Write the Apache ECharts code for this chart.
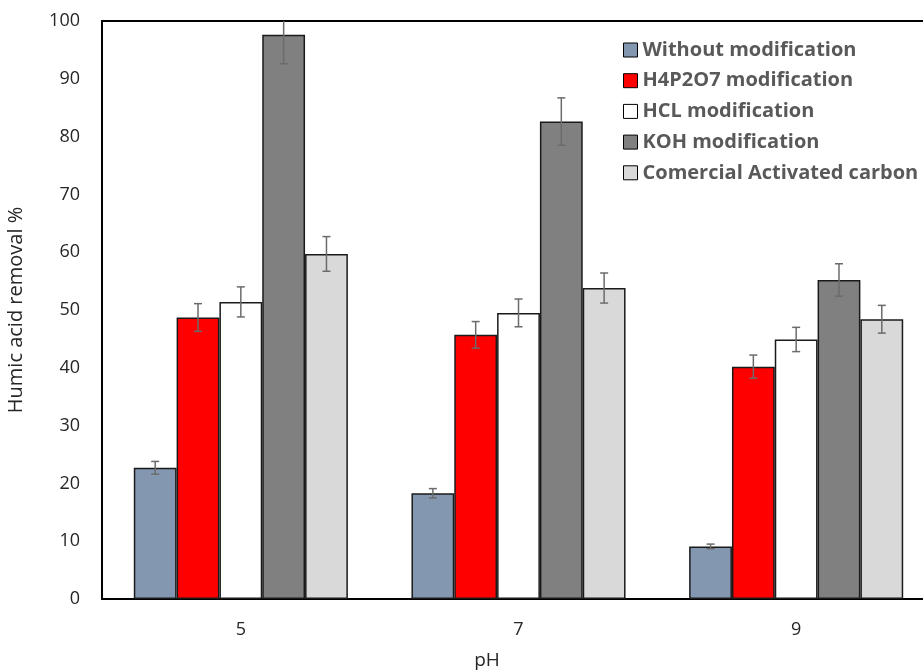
<!DOCTYPE html>
<html>
<head>
<meta charset="utf-8">
<script src="https://cdn.jsdelivr.net/npm/echarts@6/dist/echarts.min.js"></script>
<style>
  html, body { margin: 0; padding: 0; background: #fff; }
  #chartmain { width: 923px; height: 670px; }
</style>
</head>
<body>
<div id="chartmain"></div>
<script>
var categories = ['5', '7', '9'];
var seriesNames = ['Without modification', 'H4P2O7 modification', 'HCL modification', 'KOH modification', 'Comercial Activated carbon'];
var colors = ['#8497B0', '#FF0000', '#FFFFFF', '#808080', '#D9D9D9'];

// values read for pH 5, 7, 9
var withoutMod = [22.7, 18.3, 9.1];
var h4p2o7Mod = [48.7, 45.7, 40.2];
var hclMod = [51.4, 49.5, 44.9];
var kohMod = [97.6, 82.6, 55.2];
var commercialAC = [59.7, 53.8, 48.4];

// error bar half widths
var withoutErr = [1.1, 0.8, 0.4];
var h4p2o7Err = [2.4, 2.3, 2.0];
var hclErr = [2.6, 2.4, 2.1];
var kohErr = [5.0, 4.1, 2.8];
var commercialErr = [3.0, 2.6, 2.4];

var allValues = [withoutMod, h4p2o7Mod, hclMod, kohMod, commercialAC];
var allErrors = [withoutErr, h4p2o7Err, hclErr, kohErr, commercialErr];

var catGap = 0.229;
var font = 'Open Sans';

var series = [];
for (var s = 0; s < seriesNames.length; s++) {
	series.push({
		name: seriesNames[s],
		type: 'bar',
		data: allValues[s],
		barGap: '0%',
		barCategoryGap: (catGap * 100) + '%',
		itemStyle: { color: colors[s], borderColor: '#1a1a1a', borderWidth: 1.5 },
		emphasis: { disabled: true }
	});
}

// error bars: [category index, series index, value, error]
var errData = [];
for (var s = 0; s < allValues.length; s++) {
	for (var c = 0; c < categories.length; c++) {
		errData.push([c, s, allValues[s][c], allErrors[s][c]]);
	}
}

series.push({
	name: 'errors',
	type: 'custom',
	data: errData,
	z: 10,
	silent: true,
	renderItem: function (params, api) {
		var c = api.value(0), s = api.value(1), v = api.value(2), e = api.value(3);
		var bandW = api.size([1, 0])[0];
		var barW = bandW * (1 - catGap) / 5;
		var cx = api.coord([c, 0])[0] + (s - 2) * barW;
		var top = api.coord([c, Math.min(v + e, 100)])[1];
		var bot = api.coord([c, v - e])[1];
		var hw = 4;
		var st = { stroke: '#6b6b6b', lineWidth: 1.5 };
		var kids = [
			{ type: 'line', shape: { x1: cx, y1: top, x2: cx, y2: bot }, style: st },
			{ type: 'line', shape: { x1: cx - hw, y1: bot, x2: cx + hw, y2: bot }, style: st }
		];
		if (v + e <= 100) {
			kids.push({ type: 'line', shape: { x1: cx - hw, y1: top, x2: cx + hw, y2: top }, style: st });
		}
		return { type: 'group', children: kids };
	}
});

var option = {
	animation: false,
	backgroundColor: '#fff',
	textStyle: { fontFamily: font },
	grid: {
		left: 102, top: 21, width: 833, height: 578,
		outerBoundsMode: 'none',
		containLabel: false
	},
	legend: {
		data: seriesNames,
		orient: 'vertical',
		left: 618, top: 35,
		itemWidth: 14, itemHeight: 14,
		itemGap: 10.7,
		icon: 'rect',
		itemStyle: { borderColor: '#000', borderWidth: 1 },
		textStyle: { fontFamily: font, fontSize: 20, fontWeight: 'bold', color: '#595959', lineHeight: 20 }
	},
	xAxis: [{
		type: 'category',
		data: categories,
		name: 'pH',
		nameLocation: 'middle',
		nameGap: 52,
		nameTextStyle: { fontFamily: font, fontSize: 19, color: '#262626', padding: [0, 63, 0, 0] },
		axisLine: { lineStyle: { color: '#000', width: 2 } },
		axisTick: { show: false },
		axisLabel: { fontFamily: font, fontSize: 18, color: '#262626', margin: 22 }
	}, {
		// top border line of the plot area
		type: 'category',
		data: categories,
		position: 'top',
		axisLine: { show: true, lineStyle: { color: '#000', width: 2 } },
		axisTick: { show: false },
		axisLabel: { show: false }
	}],
	yAxis: {
		type: 'value',
		min: 0, max: 100, interval: 10,
		name: 'Humic acid removal %',
		nameLocation: 'middle',
		nameGap: 76,
		nameTextStyle: { fontFamily: font, fontSize: 20, color: '#262626' },
		axisLine: { show: true, lineStyle: { color: '#000', width: 2 } },
		axisTick: { show: false },
		splitLine: { show: false },
		axisLabel: { fontFamily: font, fontSize: 18, color: '#262626', margin: 22 }
	},
	series: series
};

var myChart = echarts.init(document.getElementById('chartmain'));
myChart.setOption(option);
</script>
</body>
</html>
